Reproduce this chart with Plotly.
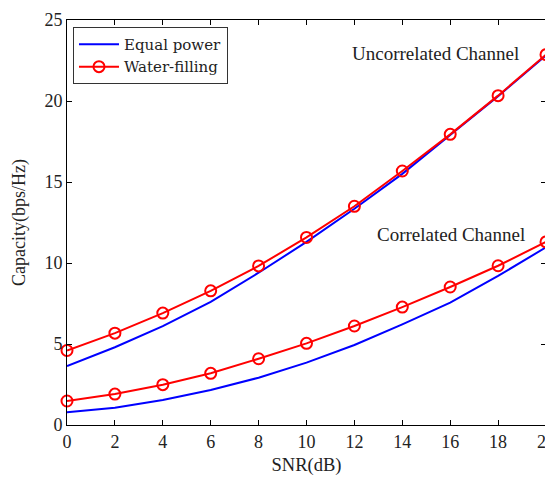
import plotly.graph_objects as go

snr = [0, 2, 4, 6, 8, 10, 12, 14, 16, 18, 20]
uncorr_equal = [3.64, 4.8, 6.1, 7.6, 9.4, 11.3, 13.35, 15.5, 17.9, 20.3, 22.82]
uncorr_water = [4.6, 5.67, 6.91, 8.28, 9.82, 11.58, 13.5, 15.68, 17.94, 20.33, 22.86]
corr_equal = [0.78, 1.07, 1.54, 2.16, 2.92, 3.85, 4.94, 6.21, 7.55, 9.2, 10.97]
corr_water = [1.48, 1.91, 2.49, 3.19, 4.09, 5.04, 6.11, 7.28, 8.52, 9.83, 11.3]

FONT = "Liberation Serif"
LFONT = "DejaVu Serif"
TXT = "#222"
blue = "rgb(0,0,255)"
red = "rgb(255,0,0)"
marker = dict(symbol="circle-open", size=11, color=red, line=dict(width=2, color=red))

fig = go.Figure()
fig.add_trace(go.Scatter(x=snr, y=uncorr_equal, mode="lines", name="Equal power",
                         line=dict(color=blue, width=2), cliponaxis=False))
fig.add_trace(go.Scatter(x=snr, y=uncorr_water, mode="lines+markers", name="Water-filling",
                         line=dict(color=red, width=2), marker=marker, cliponaxis=False))
fig.add_trace(go.Scatter(x=snr, y=corr_equal, mode="lines", showlegend=False,
                         line=dict(color=blue, width=2), cliponaxis=False))
fig.add_trace(go.Scatter(x=snr, y=corr_water, mode="lines+markers", showlegend=False,
                         line=dict(color=red, width=2), marker=marker, cliponaxis=False))

axis_common = dict(showline=True, linecolor="black", linewidth=1, mirror="ticks",
                   ticks="inside", ticklen=5, tickcolor="black", showgrid=False,
                   zeroline=False, automargin=False, ticklabeloverflow="allow",
                   tickfont=dict(family=FONT, size=18, color=TXT))

fig.update_xaxes(range=[0, 20], tickvals=snr,
                 title=dict(text="SNR(dB)", font=dict(family=FONT, size=18.5, color=TXT), standoff=7),
                 **axis_common)
fig.update_yaxes(range=[0, 25], tickvals=[0, 5, 10, 15, 20, 25],
                 title=dict(text="Capacity(bps/Hz)", font=dict(family=FONT, size=18, color=TXT), standoff=14),
                 **axis_common)

fig.add_annotation(x=15.4, y=22.96, xref="x", yref="y", text="Uncorrelated Channel", showarrow=False,
                   font=dict(family=FONT, size=19, color=TXT))
fig.add_annotation(x=16.03, y=11.79, xref="x", yref="y", text="Correlated Channel", showarrow=False,
                   font=dict(family=FONT, size=19, color=TXT))

fig.update_layout(
    width=545, height=470,
    margin=dict(l=59, r=7, t=12, b=53),
    plot_bgcolor="white", paper_bgcolor="white",
    legend=dict(x=0.0125, y=0.983, xanchor="left", yanchor="top",
                bordercolor="#333", borderwidth=1, bgcolor="white",
                font=dict(family=LFONT, size=15, color=TXT),
                tracegroupgap=0, itemwidth=40),
)

fig.write_html("out.html")
